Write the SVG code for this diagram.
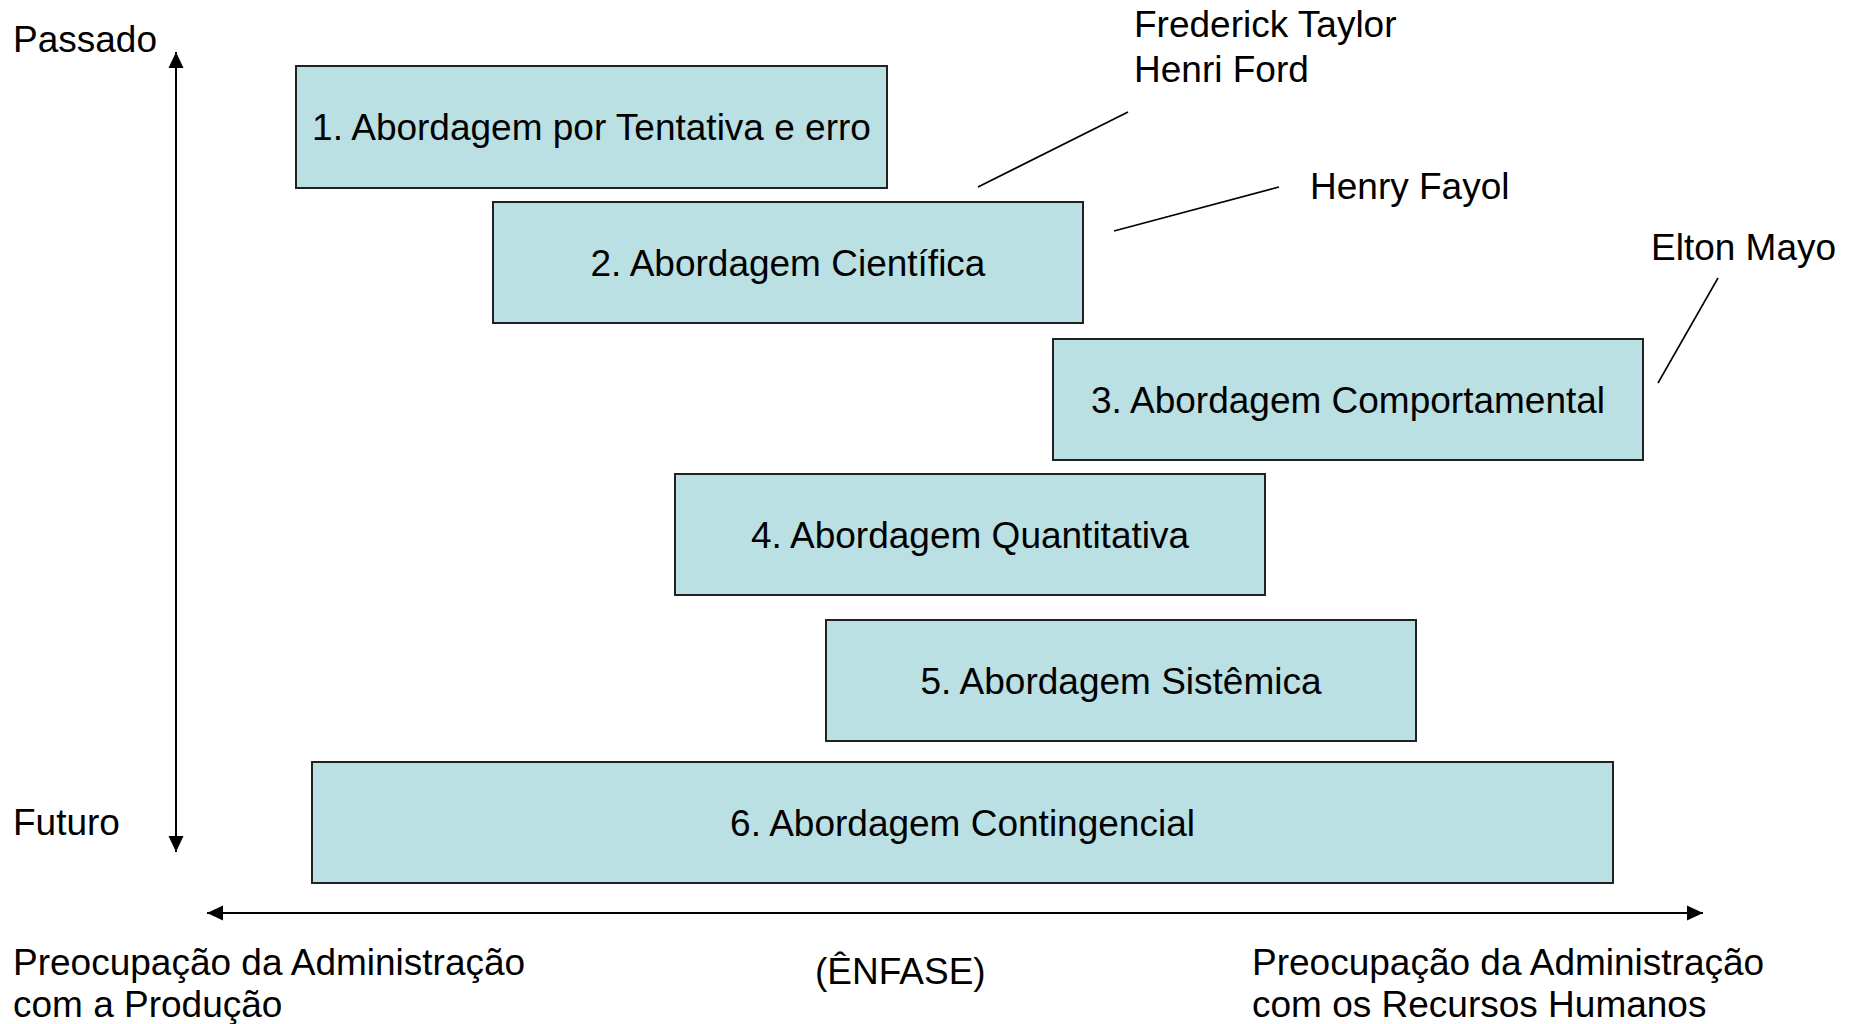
<svg xmlns="http://www.w3.org/2000/svg" width="1850" height="1024" viewBox="0 0 1850 1024">
<style>
text{font-family:"Liberation Sans",Arial,sans-serif;font-size:37px;fill:#000}
.box rect{fill:#BAE0E3;stroke:#222;stroke-width:2}
.box text{text-anchor:middle}
.ax{stroke:#000;stroke-width:2;fill:none}
.lead{stroke:#000;stroke-width:1.6;fill:none}
</style>
<defs>
<marker id="ah" viewBox="0 0 16 16" refX="16" refY="8" markerWidth="16" markerHeight="16" markerUnits="userSpaceOnUse" orient="auto-start-reverse">
<path d="M0,0.5 L16,8 L0,15.5 Z" fill="#000"/>
</marker>
</defs>
<rect width="1850" height="1024" fill="#fff"/>
<g id="axes">
<line class="ax" x1="176" y1="52" x2="176" y2="852" marker-start="url(#ah)" marker-end="url(#ah)"/>
<line class="ax" x1="207" y1="913" x2="1703" y2="913" marker-start="url(#ah)" marker-end="url(#ah)"/>
</g>
<g id="connectors">
<line class="lead" x1="1128" y1="112" x2="978" y2="187"/>
<line class="lead" x1="1279" y1="187" x2="1114" y2="231"/>
<line class="lead" x1="1718" y1="278" x2="1658" y2="383"/>
</g>
<g id="n1" class="box"><rect x="296" y="66" width="591" height="122"/><text x="591.5" y="140">1. Abordagem por Tentativa e erro</text></g>
<g id="n2" class="box"><rect x="493" y="202" width="590" height="121"/><text x="788" y="275.5">2. Abordagem Científica</text></g>
<g id="n3" class="box"><rect x="1053" y="339" width="590" height="121"/><text x="1348" y="412.5">3. Abordagem Comportamental</text></g>
<g id="n4" class="box"><rect x="675" y="474" width="590" height="121"/><text x="970" y="547.5">4. Abordagem Quantitativa</text></g>
<g id="n5" class="box"><rect x="826" y="620" width="590" height="121"/><text x="1121" y="693.5">5. Abordagem Sistêmica</text></g>
<g id="n6" class="box"><rect x="312" y="762" width="1301" height="121"/><text x="962.5" y="835.5">6. Abordagem Contingencial</text></g>
<g id="labels">
<text x="13" y="52">Passado</text>
<text x="13" y="835">Futuro</text>
<text x="1134" y="37">Frederick Taylor</text>
<text x="1134" y="82">Henri Ford</text>
<text x="1310" y="199">Henry Fayol</text>
<text x="1651" y="260">Elton Mayo</text>
<text x="13" y="975">Preocupação da Administração</text>
<text x="13" y="1017">com a Produção</text>
<text x="815" y="984">(ÊNFASE)</text>
<text x="1252" y="975">Preocupação da Administração</text>
<text x="1252" y="1017">com os Recursos Humanos</text>
</g>
</svg>
